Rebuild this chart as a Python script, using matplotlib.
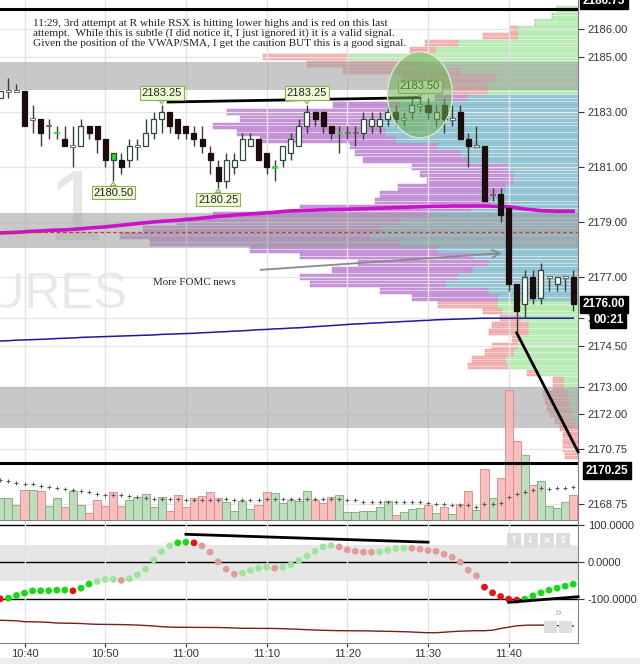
import matplotlib
matplotlib.use("Agg")
import matplotlib.pyplot as plt
import matplotlib.transforms as mtransforms
from matplotlib.patches import Rectangle, Ellipse
import numpy as np

plt.rcParams['font.family'] = ['Liberation Sans', 'DejaVu Sans']

# ---- data -------------------------------------------------------------
# bar index = minutes after 10:40 (one-minute candles, 10:37 .. 11:48)
minutes = np.arange(-3, 69)
time_ticks = [0, 10, 20, 30, 40, 50, 60]
time_labels = ['10:40', '10:50', '11:00', '11:10', '11:20', '11:30', '11:40']

opens = [2183.50, 2183.75, 2183.75, 2183.75, 2182.75, 2182.75, 2182.50, 2182.25, 2182.00, 2181.75,
         2181.75, 2182.50, 2182.50, 2182.00, 2181.25, 2181.25, 2181.25, 2181.75, 2181.75, 2182.25,
         2182.75, 2183.00, 2182.75, 2182.50, 2182.25, 2182.00, 2181.50, 2181.00, 2180.50, 2181.00,
         2181.25, 2181.75, 2182.00, 2181.50, 2181.00, 2181.25, 2181.50, 2181.75, 2182.50, 2183.00,
         2183.00, 2182.50, 2182.25, 2182.25, 2182.25, 2182.25, 2182.50, 2182.50, 2182.75, 2183.00,
         2182.75, 2183.00, 2183.25, 2183.25, 2182.75, 2183.25, 2182.75, 2183.00, 2182.00, 2181.75,
         2181.75, 2180.00, 2180.00, 2179.50, 2176.75, 2176.00, 2177.00, 2176.25, 2177.00, 2176.75,
         2177.00, 2177.00]
highs = [2183.75, 2184.25, 2184.00, 2183.75, 2183.25, 2182.75, 2182.75, 2182.50, 2182.50, 2182.50,
         2182.75, 2182.50, 2182.50, 2182.00, 2181.50, 2181.50, 2182.00, 2182.00, 2182.75, 2183.00,
         2183.25, 2183.00, 2182.75, 2182.50, 2182.50, 2182.50, 2181.75, 2181.25, 2181.50, 2181.50,
         2182.25, 2182.25, 2182.00, 2181.50, 2181.25, 2181.75, 2182.25, 2182.75, 2183.25, 2183.00,
         2183.00, 2182.50, 2182.50, 2182.50, 2182.50, 2183.00, 2183.00, 2183.00, 2183.25, 2183.25,
         2183.00, 2183.50, 2183.50, 2183.50, 2183.25, 2183.50, 2183.25, 2183.25, 2182.25, 2182.50,
         2181.75, 2180.25, 2180.25, 2179.50, 2176.75, 2177.25, 2177.25, 2177.50, 2177.00, 2177.00,
         2177.00, 2177.25]
lows = [2183.50, 2183.50, 2183.75, 2182.50, 2182.25, 2181.75, 2182.00, 2182.00, 2181.75, 2181.00,
        2181.75, 2182.00, 2181.50, 2181.00, 2180.50, 2180.75, 2181.00, 2181.25, 2181.75, 2182.00,
        2182.25, 2182.25, 2182.00, 2182.00, 2181.75, 2181.50, 2180.75, 2180.25, 2180.25, 2180.75,
        2181.25, 2181.75, 2181.25, 2180.75, 2180.50, 2181.00, 2181.25, 2181.75, 2182.25, 2182.50,
        2182.25, 2182.00, 2181.50, 2182.00, 2181.75, 2182.00, 2182.25, 2182.25, 2182.50, 2182.50,
        2182.50, 2182.75, 2183.00, 2182.75, 2182.50, 2182.25, 2182.50, 2182.00, 2181.00, 2181.75,
        2179.75, 2179.75, 2179.00, 2176.50, 2175.00, 2175.50, 2176.00, 2176.00, 2176.50, 2176.50,
        2176.50, 2175.75]
closes = [2183.75, 2183.75, 2183.75, 2182.50, 2182.75, 2182.25, 2182.50, 2182.25, 2181.75, 2181.75,
          2182.50, 2182.25, 2182.00, 2181.25, 2181.50, 2181.00, 2181.75, 2181.75, 2182.25, 2182.75,
          2183.00, 2182.50, 2182.25, 2182.25, 2182.00, 2181.75, 2181.25, 2180.50, 2181.25, 2181.25,
          2182.00, 2182.00, 2181.25, 2181.00, 2181.00, 2181.75, 2182.00, 2182.50, 2183.00, 2182.75,
          2182.50, 2182.25, 2182.25, 2182.25, 2182.25, 2182.75, 2182.75, 2182.75, 2183.00, 2182.75,
          2182.75, 2183.25, 2183.25, 2183.00, 2183.00, 2182.75, 2182.75, 2182.00, 2181.75, 2181.75,
          2179.75, 2180.00, 2179.25, 2176.75, 2175.75, 2177.00, 2176.25, 2177.25, 2177.00, 2177.00,
          2177.00, 2176.00]
green_bars = [4, 11, 31, 39]   # candles painted green by the platform

volume = [217, 217, 150, 300, 300, 290, 140, 217, 130, 290,
          150, 67, 200, 140, 280, 140, 200, 230, 257, 130,
          230, 90, 250, 130, 217, 240, 280, 217, 177, 90,
          190, 110, 150, 280, 267, 167, 200, 190, 290, 200,
          170, 230, 250, 77, 77, 90, 90, 130, 190, 50,
          77, 110, 123, 150, 67, 130, 60, 160, 290, 100,
          510, 220, 420, 1300, 790, 650, 350, 390, 140, 120,
          180, 250]
vol_side = list('ggg' 'r' 'g' 'r' 'gg' 'r' 'gg' 'rrrrr' 'ggggg' 'rrrrrrr' 'gggg' 'rr'
                'ggggg' 'rrr' 'ggggggg' 'r' 'ggg' 'r' 'g' 'r' 'g' 'rr' 'g' 'r' 'g' 'rrr'
                'g' 'r' 'gggg' 'r')
vol_avg = [400, 390, 367, 357, 357, 343, 333, 317, 307, 300,
           290, 277, 257, 247, 247, 247, 240, 227, 217, 207,
           207, 207, 207, 197, 197, 197, 197, 197, 207, 197,
           197, 197, 197, 207, 207, 207, 207, 207, 207, 207,
           207, 207, 207, 200, 197, 183, 177, 177, 177, 177,
           177, 177, 177, 167, 160, 160, 150, 150, 147, 133,
           157, 157, 167, 227, 257, 283, 300, 317, 307, 317,
           317, 327]

vwap = [2178.60, 2178.61, 2178.62, 2178.64, 2178.66, 2178.67, 2178.69, 2178.70, 2178.71, 2178.73,
        2178.75, 2178.78, 2178.80, 2178.82, 2178.85, 2178.88, 2178.91, 2178.94, 2178.97, 2179.00,
        2179.02, 2179.04, 2179.06, 2179.09, 2179.11, 2179.14, 2179.17, 2179.20, 2179.22, 2179.25,
        2179.27, 2179.29, 2179.31, 2179.33, 2179.35, 2179.38, 2179.40, 2179.41, 2179.42, 2179.43,
        2179.44, 2179.45, 2179.45, 2179.46, 2179.47, 2179.48, 2179.49, 2179.50, 2179.51, 2179.52,
        2179.53, 2179.54, 2179.55, 2179.56, 2179.57, 2179.57, 2179.58, 2179.58, 2179.58, 2179.58,
        2179.58, 2179.57, 2179.56, 2179.55, 2179.51, 2179.47, 2179.44, 2179.41, 2179.40, 2179.39,
        2179.39, 2179.39]
sma = [2174.67, 2174.68, 2174.70, 2174.71, 2174.72, 2174.73, 2174.74, 2174.76, 2174.77, 2174.78,
       2174.80, 2174.81, 2174.82, 2174.83, 2174.84, 2174.85, 2174.86, 2174.87, 2174.88, 2174.89,
       2174.91, 2174.92, 2174.93, 2174.94, 2174.95, 2174.97, 2174.98, 2175.00, 2175.01, 2175.03,
       2175.04, 2175.06, 2175.08, 2175.09, 2175.11, 2175.12, 2175.14, 2175.15, 2175.17, 2175.19,
       2175.21, 2175.23, 2175.25, 2175.27, 2175.29, 2175.30, 2175.32, 2175.33, 2175.35, 2175.36,
       2175.38, 2175.39, 2175.41, 2175.42, 2175.44, 2175.45, 2175.46, 2175.47, 2175.48, 2175.49,
       2175.50, 2175.50, 2175.50, 2175.50, 2175.50, 2175.50, 2175.50, 2175.50, 2175.50, 2175.50,
       2175.50, 2175.50]
prior_level = 2178.65          # red dashed line
session_high = 2186.75
session_low = 2170.25

rsx = [-98.6, -96.8, -89.6, -83.3, -77.2, -77.0, -76.8, -75.4, -75.2, -77.0,
       -70.0, -59.0, -52.0, -46.6, -46.4, -49.0, -44.8, -34.0, -18.8, 6.3,
       27.8, 43.9, 52.0, 53.8, 52.0, 43.9, 26.9, 0.9, -18.8, -32.3,
       -29.6, -22.4, -16.1, -13.4, -16.1, -13.4, -7.2, 4.5, 17.0, 29.6,
       41.2, 44.8, 41.2, 33.2, 29.6, 26.9, 26.7, 27.8, 32.3, 36.7,
       37.6, 37.4, 34.9, 31.4, 29.6, 21.5, 13.4, 0.0, -21.5, -36.7,
       -67.2, -82.4, -92.3, -99.5, -102.0, -99.5, -90.5, -82.4, -75.3, -69.9,
       -64.5, -59.1]
lower_ind = [22.7, 22.5, 22.2, 21.3, 21.2, 21.0, 20.6, 20.0, 19.8, 19.7,
             19.5, 19.0, 18.7, 18.6, 18.5, 18.4, 18.2, 17.9, 17.5, 17.0,
             16.3, 15.9, 15.7, 15.7, 15.6, 15.6, 15.5, 15.5, 15.3, 15.0,
             14.7, 14.7, 14.6, 14.6, 14.5, 14.3, 14.0, 13.7, 13.3, 13.0,
             12.7, 12.5, 12.3, 12.3, 12.2, 12.2, 12.0, 11.8, 11.7, 11.5,
             11.3, 11.0, 10.6, 10.3, 10.3, 10.8, 11.4, 11.8, 12.1, 12.3,
             12.3, 12.8, 14.5, 15.8, 17.2, 17.7, 17.9, 17.9, 17.7, 17.4,
             17.1, 17.0]

# volume profile, 0.25 levels from 2186.75 down to 2170.50
profile_levels = [2186.75 - 0.25 * i for i in range(66)]
profile_buy = [21, 26, 43, 61, 61, 120, 143, 230, 158, 118, 83, 91, 91,
               111, 178, 193, 198, 198, 193, 183, 141, 118, 111, 71, 65, 65,
               73, 80, 88, 108, 148, 178, 198, 208, 178, 141, 105, 90, 106,
               120, 133, 90, 81, 81, 76, 58, 50, 50, 60, 61, 65, 73, 71,
               40, 15, 15, 11, 10, 8, 6, 3, 0, 0, 0, 0, 0]
profile_sell = [0, 0, 0, 7, 34, 33, 25, 85, 113, 117, 93, 45, 34,
                32, 67, 158, 140, 167, 148, 135, 87, 105, 104, 95, 93, 86,
                107, 118, 115, 170, 217, 223, 237, 250, 250, 187, 173, 130, 140,
                158, 135, 108, 85, 59, 19, 20, 36, 39, 6, 25, 28, 33, 39,
                11, 10, 10, 24, 23, 23, 22, 20, 18, 15, 15, 15, 13]
value_area = (2176.25, 2183.50)

zones = [(2183.80, 2184.80), (2178.05, 2179.33), (2171.50, 2173.00)]
price_ticks = [2186.00, 2185.00, 2183.00, 2181.00, 2179.00, 2177.00, 2175.50,
               2174.50, 2173.00, 2172.00, 2170.75, 2168.75]
callouts = [(17, 2183.25, True), (35, 2183.25, True), (49, 2183.50, True),
            (11, 2180.50, False), (24, 2180.25, False)]
resistance_line = ([17.8, 49.0], [2183.36, 2183.52])
drop_line = ([61.0, 68.6], [2174.96, 2170.64])
rsx_lines = [([20, 50], [75, 53.8]), ([60, 68.6], [-108, -93])]

note = ["11:29, 3rd attempt at R while RSX is hitting lower highs and is red on this last",
        "attempt.  While this is subtle (I did notice it, I just ignored it) it is a valid signal.",
        "Given the position of the VWAP/SMA, I get the caution BUT this is a good signal."]

# ---- layout -----------------------------------------------------------
W, H = 640, 664
PX_MIN = 8.07                  # pixels per one-minute bar
X0 = -24.5 / PX_MIN
X1 = X0 + 578 / PX_MIN

fig = plt.figure(figsize=(6.4, 6.64), dpi=100)
ax = fig.add_axes([0, 1 - 520 / H, 578 / W, 520 / H])
axo = fig.add_axes([0, 1 - 609 / H, 578 / W, 88 / H])
axl = fig.add_axes([0, 1 - 643 / H, 578 / W, 34 / H])

# volume histogram gets its own scale at the bottom of the price pane
axv = ax.twinx()

for a in (ax, axo, axl):
    a.set_xlim(X0, X1)
    for s in ('left', 'top'):
        a.spines[s].set_visible(False)
    a.spines['right'].set_color('#808080')
    a.spines['bottom'].set_color('#808080')
    a.set_xticks(time_ticks)
    a.grid(axis='x', color='#e3e3e3', lw=1, zorder=0)
    a.yaxis.tick_right()
    a.tick_params(axis='y', labelsize=8, colors='#333333', length=4, pad=3)
    a.tick_params(axis='x', length=0, labelbottom=False)

ax.set_ylim(2168.16, 2187.07)
ax.set_yticks(price_ticks)
ax.set_yticklabels(['%.2f' % t for t in price_ticks])
ax.grid(axis='y', color='#e6e6e6', lw=1, zorder=0)

# watermark
ax.text(2.8, 2178.35, '1', fontsize=72, color='#e6e6e6', zorder=0.5)
ax.text(12.8, 2175.87, 'FUTURES', fontsize=36, color='#e9e9e9', ha='right', zorder=0.5,
        clip_on=True)

# volume profile, anchored at the right edge, two thin rows per level
lv = np.array(profile_levels)
buy = np.array(profile_buy) / PX_MIN
sell = np.array(profile_sell) / PX_MIN
in_va = (lv >= value_area[0]) & (lv <= value_area[1])
buy_c = np.where(in_va, '#96c8d8', '#bdf0b8')
sell_c = np.where(in_va, '#c996da', '#f6b8b8')
buy_e = np.where(in_va, '#7fb3c4', '#9fd89a')
sell_e = np.where(in_va, '#b57fc8', '#e08c8c')
for off in (0.0625, -0.0625):
    ax.barh(lv + off, buy, left=X1 - buy, height=0.1, color=buy_c, edgecolor=buy_e,
            lw=0.3, zorder=1.5)
    ax.barh(lv + off, sell, left=X1 - buy - sell, height=0.1, color=sell_c,
            edgecolor=sell_e, lw=0.3, zorder=1.5)

for lo, hi in zones:
    ax.axhspan(lo, hi, fc='#9c9c9c', alpha=0.55, lw=0, zorder=2.5)

ax.plot(minutes, vwap, color='#cc11cc', lw=2.6, zorder=3)
ax.plot(minutes, sma, color='#1a1a9a', lw=1.1, zorder=3)
ax.axhline(prior_level, color='#c03a3a', lw=0.9, ls=(0, (3, 2)), zorder=3)
ax.axhline(session_high, color='black', lw=2.2, zorder=3)

# candles
bw = 0.62
for m, o, h, l, c in zip(minutes, opens, highs, lows, closes):
    ax.vlines(m, l, h, color='#3a3a3a', lw=1, zorder=4)
    if m in green_bars:
        fc, ec = '#2fd62f', '#1d4a1d'
    elif c > o:
        fc, ec = 'white', '#2e4a3a'
    elif c < o:
        fc, ec = '#1c0c0c', '#1c0c0c'
    else:
        fc, ec = 'white', '#555555'
    if c == o:
        if m in green_bars:
            ec = '#2fd62f'
        ax.add_patch(Rectangle((m - bw / 2, o - 0.03), bw, 0.06, fc=fc, ec=ec, lw=0.6, zorder=4.2))
    else:
        ax.add_patch(Rectangle((m - bw / 2, min(o, c)), bw, abs(c - o), fc=fc, ec=ec,
                               lw=0.9, zorder=4.2))

ax.plot(*resistance_line, color='black', lw=2, zorder=4.5)
ax.plot(*drop_line, color='black', lw=2, zorder=4.5, clip_on=False)

ax.add_patch(Ellipse((49.0, 2183.62), 8.05, 3.13, fc=(0.44, 0.69, 0.34, 0.55),
                     ec='#d6ecc8', lw=1, zorder=6))

for m, p, above in callouts:
    ax.annotate('%.2f' % p, xy=(m, p), xytext=(0, 12 if above else -12),
                textcoords='offset pixels', ha='center', va='center', fontsize=8,
                color='#222222', zorder=5.5,
                bbox=dict(boxstyle='square,pad=0.15', fc='#effbd6', ec='#8fab58', lw=0.8),
                arrowprops=dict(arrowstyle='wedge,tail_width=0.5', fc='#effbd6',
                                ec='#8fab58', lw=0.8, shrinkA=0, shrinkB=1))

ax.annotate('', xy=(59.5, 2177.87), xytext=(28.9, 2177.25),
            arrowprops=dict(arrowstyle='->', color='#8a8a8a', lw=1.3, mutation_scale=14),
            zorder=5)
ax.text(15.9, 2176.71, 'More FOMC news', family='Liberation Serif', fontsize=7.8,
        color='#222222', zorder=5)

axv.set_ylim(0, 5200)
axv.set_yticks([])
for s in ('left', 'top', 'right', 'bottom'):
    axv.spines[s].set_visible(False)
vc = ['#b6dab6' if s == 'g' else '#f8b8b8' for s in vol_side]
ve = ['#7eaa7e' if s == 'g' else '#dc8888' for s in vol_side]
axv.bar(minutes, volume, width=1.0, color=vc, edgecolor=ve, lw=0.7, alpha=0.9, zorder=2)
axv.plot(minutes, vol_avg, ls='none', marker='+', ms=3, mew=0.7, color='#555555', zorder=3)
axv.plot([0, 1], [session_low, session_low], color='black', lw=2.2,
         transform=ax.get_yaxis_transform(), zorder=4)

# RSX oscillator pane
rsx_a = np.array(rsx)
rising = np.diff(rsx_a, prepend=rsx_a[0] + 1) > 0
faded = (rsx_a > -55) & (rsx_a < 50)
dot_c = np.where(rising, np.where(faded, '#9ce59c', '#11dd11'),
                 np.where(faded, '#e39a9a', '#ee1111'))
axo.set_ylim(-126, 110.8)
axo.axhspan(-50, 47, fc='#e6e6e6', lw=0, zorder=0.5)
for v in (100, 0, -100):
    axo.axhline(v, color='black', lw=1, zorder=1)
axo.scatter(minutes, rsx_a, s=24, c=dot_c, linewidths=0, zorder=3)
for xs, ys in rsx_lines:
    axo.plot(xs, ys, color='black', lw=2, zorder=4, clip_on=False)
axo.set_yticks([100, 0, -100])
axo.set_yticklabels(['100.0000', '0.0000', '-100.0000'])
for i, sym in enumerate(['\u2191', '\u2193', '\u2715', '\u2195']):
    axo.text(510 / 578 + i * 16.2 / 578, 0.78, sym, transform=axo.transAxes, fontsize=7.5,
             color='white', ha='left', va='center', family='DejaVu Sans', zorder=5,
             bbox=dict(boxstyle='square,pad=0.25', fc='#dcdcdc', ec='none'))

# lower pane
axl.set_ylim(0, 34)
axl.set_yticks([])
axl.plot(minutes, lower_ind, color='#7a1f1f', lw=1, zorder=3)
axl.tick_params(axis='x', labelbottom=True, labelsize=8, colors='#333333', length=3,
                pad=1)
axl.set_xticklabels(time_labels)
axl.text(558 / 578, 0.88, '\u00bb', transform=axl.transAxes, fontsize=9, color='#b0b0b0',
         ha='center', va='center', zorder=5)
for xp in (544, 559):
    axl.add_patch(Rectangle((xp / 578, 0.3), 13 / 578, 0.36, transform=axl.transAxes,
                            fc='#dedede', ec='none', zorder=5, clip_on=False))

# price boxes on the right scale
lab = mtransforms.blended_transform_factory(ax.transAxes, ax.transData)
box = dict(boxstyle='square,pad=0.22', fc='black', ec='black')
for xp, p, s in [(583, 2187.05, '2186.75'), (583, 2176.00, '2176.00'),
                 (593, 2175.44, '00:21'), (586, 2169.95, '2170.25')]:
    ax.text(xp / 578, p, s, transform=lab, fontsize=8.5, fontweight='bold',
            color='white', va='center', bbox=box, clip_on=False, zorder=10)

for i, line in enumerate(note):
    fig.text(33 / W, 1 - (25.7 + 10.2 * i) / H, line, family='Liberation Serif', fontsize=8.1,
             color='#222222', va='baseline')

fig.patches.append(Rectangle((0, 0), 1, 6 / H, transform=fig.transFigure, fc='#ececec',
                             ec='none'))

fig.savefig('out.png', dpi=100)
